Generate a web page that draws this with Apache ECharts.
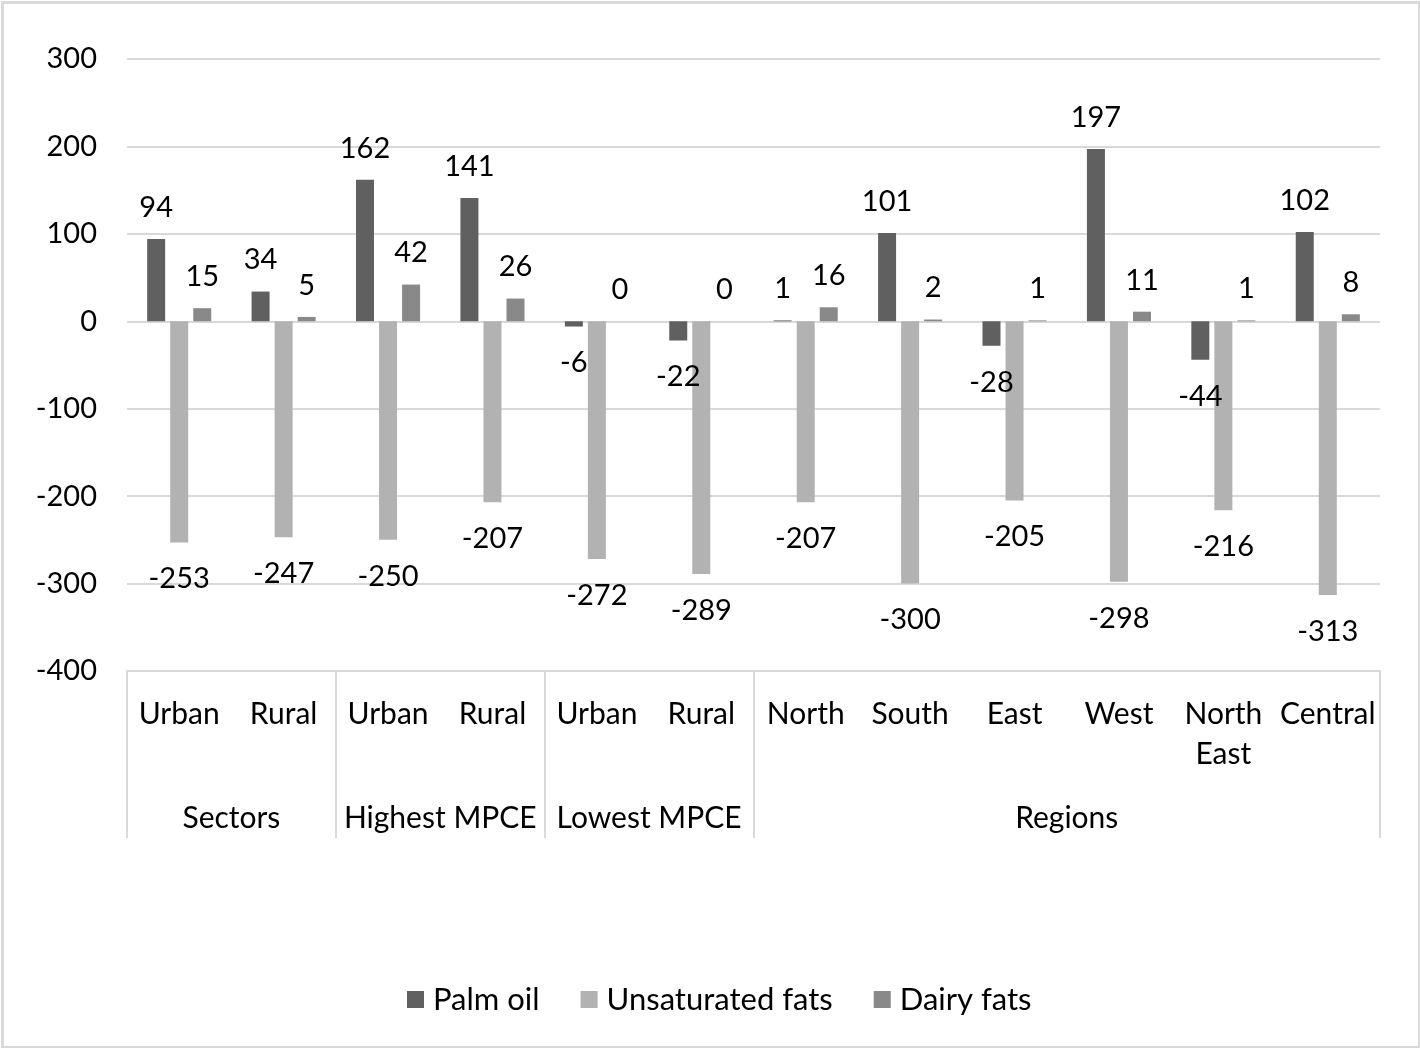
<!DOCTYPE html>
<html>
<head>
<meta charset="utf-8">
<script src="https://cdn.jsdelivr.net/npm/echarts@6/dist/echarts.min.js"></script>
<style>
html,body{margin:0;padding:0;background:#fff;}
#chart{width:1420px;height:1048px;}
</style>
</head>
<body>
<div id="chart"></div>
<script>
const categories = ['Urban','Rural','Urban','Rural','Urban','Rural','North','South','East','West','North East','Central'];
const groupNames = ['Sectors','Highest MPCE','Lowest MPCE','Regions'];
const groupSizes = [2,2,2,6];
const palmOil = [94,34,162,141,-6,-22,1,101,-28,197,-44,102];
const unsaturatedFats = [-253,-247,-250,-207,-272,-289,-207,-300,-205,-298,-216,-313];
const dairyFats = [15,5,42,26,0,0,16,2,1,11,1,8];
const yTicks = {min:-400, max:300, interval:100};

const FONT = 'Lato';
const FS = 29;
const FSC = 30;
const TXT = '#000000';

// group boundaries and centers (in category units)
const boundaries = [0];
const centers = [];
groupSizes.forEach(s => { const start = boundaries[boundaries.length-1]; centers.push(start + s/2); boundaries.push(start + s); });

function mkData(arr){
  return arr.map(v => ({
    value: v,
    label: { position: v >= 0 ? 'top' : 'bottom', distance: v >= 0 ? 17 : 22 }
  }));
}

const labelStyle = { show: true, fontFamily: FONT, fontSize: FS, color: TXT };

const chart = echarts.init(document.getElementById('chart'), null, {renderer:'canvas'});
chart.setOption({
  animation: false,
  backgroundColor: '#ffffff',
  textStyle: { fontFamily: FONT },
  graphic: [{
    type: 'rect', left: 0, top: 0, silent: true,
    shape: { x: 1.5, y: 1.5, width: 1417, height: 1045 },
    style: { fill: 'none', stroke: '#d9d9d9', lineWidth: 3 }
  }],
  grid: { left: 127, right: 40, top: 59, bottom: 377, containLabel: false },
  legend: {
    bottom: 28, left: 402,
    itemWidth: 17, itemHeight: 17, itemGap: 41,
    icon: 'rect',
    textStyle: { fontFamily: FONT, fontSize: 31, color: TXT, padding: [0,0,0,4] },
    data: ['Palm oil','Unsaturated fats','Dairy fats']
  },
  xAxis: [{
    type: 'category',
    data: categories,
    position: 'bottom',
    axisLine: { show: true, onZero: false, lineStyle: { color: '#d9d9d9', width: 2 } },
    axisTick: { show: false },
    axisLabel: {
      fontFamily: FONT, fontSize: FSC, color: TXT, margin: 23, lineHeight: 40,
      interval: 0,
      formatter: v => v.replace(' ', '\n')
    },
    splitLine: { show: false }
  }, {
    type: 'value',
    min: 0, max: categories.length,
    position: 'bottom',
    axisLine: { show: false, onZero: false },
    axisTick: { show: true, customValues: boundaries, length: 167, lineStyle: { color: '#d9d9d9', width: 2 } },
    axisLabel: {
      show: true, customValues: centers, margin: 132,
      fontFamily: FONT, fontSize: FSC, color: TXT,
      formatter: v => { const i = centers.indexOf(v); return i >= 0 ? groupNames[i] : ''; }
    },
    splitLine: { show: false }
  }],
  yAxis: {
    type: 'value',
    min: yTicks.min, max: yTicks.max, interval: yTicks.interval,
    axisLine: { show: false },
    axisTick: { show: false },
    axisLabel: { fontFamily: FONT, fontSize: FS, color: TXT, margin: 30 },
    splitLine: { show: true, lineStyle: { color: '#d9d9d9', width: 2 } }
  },
  series: [{
    name: 'Palm oil', type: 'bar', xAxisIndex: 0,
    data: mkData(palmOil), barWidth: 18, barGap: '28%',
    itemStyle: { color: '#606060' }, label: labelStyle
  }, {
    name: 'Unsaturated fats', type: 'bar', xAxisIndex: 0,
    data: mkData(unsaturatedFats), barWidth: 18, barGap: '28%',
    itemStyle: { color: '#b2b2b2' }, label: labelStyle
  }, {
    name: 'Dairy fats', type: 'bar', xAxisIndex: 0,
    data: mkData(dairyFats), barWidth: 18, barGap: '28%',
    itemStyle: { color: '#898989' }, label: labelStyle
  }]
});
</script>
</body>
</html>
